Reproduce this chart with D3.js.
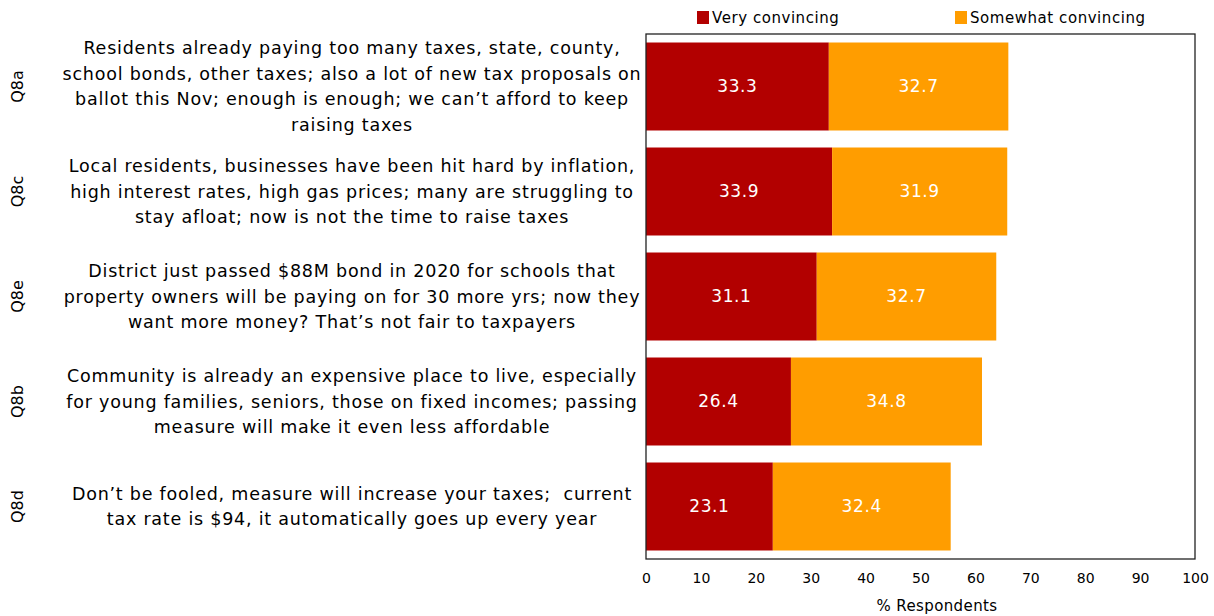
<!DOCTYPE html>
<html>
<head>
<meta charset="utf-8">
<script src="https://cdn.jsdelivr.net/npm/d3@7"></script>
<style>
  body { margin: 0; background: #fff; }
  svg { display: block; font-family: "DejaVu Sans", sans-serif; }
  text { white-space: pre; }
</style>
</head>
<body>
<svg id="chart" width="1214" height="616"></svg>
<script>
// Survey items, top to bottom
const codes = ["Q8a", "Q8c", "Q8e", "Q8b", "Q8d"];
const statements = [
  ["Residents already paying too many taxes, state, county,",
   "school bonds, other taxes; also a lot of new tax proposals on",
   "ballot this Nov; enough is enough; we can\u2019t afford to keep",
   "raising taxes"],
  ["Local residents, businesses have been hit hard by inflation,",
   "high interest rates, high gas prices; many are struggling to",
   "stay afloat; now is not the time to raise taxes"],
  ["District just passed $88M bond in 2020 for schools that",
   "property owners will be paying on for 30 more yrs; now they",
   "want more money? That\u2019s not fair to taxpayers"],
  ["Community is already an expensive place to live, especially",
   "for young families, seniors, those on fixed incomes; passing",
   "measure will make it even less affordable"],
  ["Don\u2019t be fooled, measure will increase your taxes;  current",
   "tax rate is $94, it automatically goes up every year"]
];
const veryConvincing = [33.3, 33.9, 31.1, 26.4, 23.1];
const somewhatConvincing = [32.7, 31.9, 32.7, 34.8, 32.4];
const seriesNames = ["Very convincing", "Somewhat convincing"];
const seriesColors = ["#b20000", "#ff9d00"];
const xTicks = [0, 10, 20, 30, 40, 50, 60, 70, 80, 90, 100];

const svg = d3.select("#chart");
const plot = { left: 646, right: 1195, top: 34, bottom: 559 };

const x = d3.scaleLinear().domain([0, 100]).range([plot.left, plot.right]);
const y = d3.scaleBand().domain(codes).range([plot.top, plot.bottom])
  .paddingInner(0.162).paddingOuter(0.081);

const rows = codes.map((c, i) => ({
  code: c, lines: statements[i],
  values: [veryConvincing[i], somewhatConvincing[i]]
}));

// Stacked segments
const stack = d3.stack().keys([0, 1]).value((d, k) => d.values[k]);
const layers = stack(rows);

const gBars = svg.append("g");
layers.forEach((layer, k) => {
  const g = gBars.append("g").attr("fill", seriesColors[k]);
  g.selectAll("rect").data(layer).join("rect")
    .attr("x", d => x(d[0]))
    .attr("width", d => x(d[1]) - x(d[0]))
    .attr("y", d => y(d.data.code))
    .attr("height", y.bandwidth());
  gBars.append("g").selectAll("text").data(layer).join("text")
    .attr("x", d => (x(d[0]) + x(d[1])) / 2)
    .attr("y", d => y(d.data.code) + y.bandwidth() / 2)
    .attr("dy", "0.35em")
    .attr("text-anchor", "middle")
    .attr("fill", "#fff")
    .attr("font-size", 17)
    .attr("letter-spacing", 0.6)
    .text(d => d.data.values[k].toFixed(1));
});

// Plot frame
svg.append("rect")
  .attr("x", plot.left).attr("y", plot.top)
  .attr("width", plot.right - plot.left).attr("height", plot.bottom - plot.top)
  .attr("fill", "none").attr("stroke", "#222").attr("stroke-width", 1.3);

// x axis labels
const xAxis = d3.axisBottom(x).tickValues(xTicks).tickSize(0).tickPadding(14);
const gx = svg.append("g").attr("transform", `translate(0,${plot.bottom})`).call(xAxis);
gx.select(".domain").remove();
gx.selectAll("text").attr("font-size", 14).attr("fill", "#000")
  .attr("font-family", "DejaVu Sans, sans-serif");

svg.append("text")
  .attr("x", 937).attr("y", 611)
  .attr("text-anchor", "middle").attr("font-size", 15)
  .attr("letter-spacing", 0.4)
  .text("% Respondents");

// Category labels
const gCat = svg.append("g");
rows.forEach(r => {
  const cy = y(r.code) + y.bandwidth() / 2;
  gCat.append("text")
    .attr("transform", `translate(17,${cy}) rotate(-90)`)
    .attr("text-anchor", "middle").attr("dy", "0.35em")
    .attr("font-size", 16)
    .text(r.code);
  const lh = 25.5;
  const t = gCat.append("text")
    .attr("text-anchor", "middle").attr("font-size", 17.5)
    .attr("letter-spacing", 0.78);
  r.lines.forEach((ln, j) => {
    t.append("tspan")
      .attr("x", 352)
      .attr("y", cy + (j - (r.lines.length - 1) / 2) * lh)
      .attr("dy", "0.35em")
      .text(ln);
  });
});

// Legend
const legendX = [697, 955];
seriesNames.forEach((name, k) => {
  const g = svg.append("g").attr("transform", `translate(${legendX[k]},11)`);
  g.append("rect").attr("width", 12).attr("height", 13).attr("fill", seriesColors[k]);
  g.append("text").attr("x", 15).attr("y", 6.5).attr("dy", "0.35em")
    .attr("font-size", 15).attr("letter-spacing", 0.55).text(name);
});
</script>
</body>
</html>
